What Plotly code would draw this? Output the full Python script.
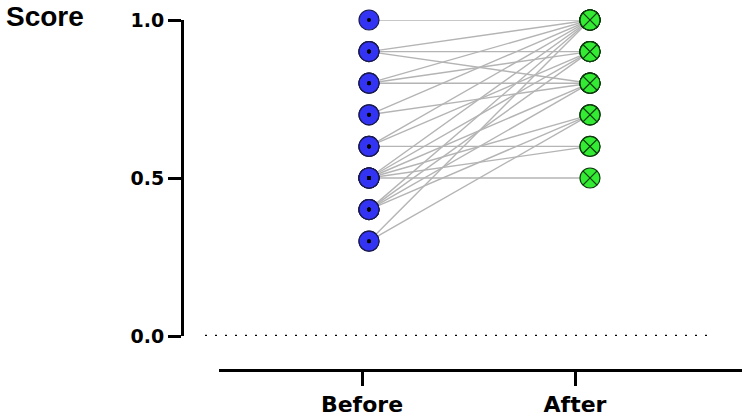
import plotly.graph_objects as go

# ---- data ----
categories = ["Before", "After"]
before = [1.0, 0.9, 0.9, 0.9, 0.8, 0.8, 0.8, 0.7, 0.7, 0.6, 0.6, 0.6,
          0.5, 0.5, 0.5, 0.5, 0.5, 0.5, 0.4, 0.4, 0.4, 0.4, 0.3, 0.3]
after = [1.0, 1.0, 0.9, 0.8, 1.0, 0.9, 0.8, 1.0, 0.8, 1.0, 0.9, 0.6,
         1.0, 0.9, 0.8, 0.7, 0.6, 0.5, 1.0, 0.9, 0.8, 0.7, 1.0, 0.7]
y_ticks = [0.0, 0.5, 1.0]
y_tick_labels = ["0.0", "0.5", "1.0"]
y_title = "Score"

# ---- layout geometry (pixels) ----
W, H = 743, 418
ml, mr, mt, mb = 184, 1, 20, 40
pw, ph = W - ml - mr, H - mt - mb

def px_x(p):
    return (p - ml) / pw

def px_y(p):
    return (H - mb - p) / ph

# main (hidden) x axis: Before at 369px, After at 590px
sx = 590 - 369
x_rng = [(ml - 369) / sx, (W - mr - 369) / sx]
# category axis: ticks at 362px and 575px, line from 219px
sx2 = 575 - 362
x2_rng = [(219 - 362) / sx2, (W - mr - 362) / sx2]

xs, ys = [], []
for b, a in zip(before, after):
    xs += [0, 1, None]
    ys += [b, a, None]

fig = go.Figure()
fig.add_trace(go.Scatter(
    x=xs, y=ys, mode="lines",
    line=dict(color="#B4B4B4", width=1.4),
    cliponaxis=False, hoverinfo="skip", showlegend=False))
fig.add_trace(go.Scatter(
    x=[0] * len(before), y=before, mode="markers",
    marker=dict(symbol="circle", size=20, color="#3333F4",
                line=dict(color="#1A1A50", width=1.2)),
    cliponaxis=False, showlegend=False, name=categories[0]))
fig.add_trace(go.Scatter(
    x=[0] * len(before), y=before, mode="markers",
    marker=dict(symbol="circle", size=4, color="#000000", line=dict(width=0)),
    cliponaxis=False, showlegend=False, hoverinfo="skip"))
fig.add_trace(go.Scatter(
    x=[1] * len(after), y=after, mode="markers",
    marker=dict(symbol="circle-x", size=20, color="#33EB33",
                line=dict(color="#0E3A0E", width=1.2)),
    cliponaxis=False, showlegend=False, name=categories[1]))
# trace to register category axis
fig.add_trace(go.Scatter(
    x=[0, 1], y=[None, None], xaxis="x2", yaxis="y", mode="markers",
    showlegend=False, hoverinfo="skip"))

# dotted baseline at 0
fig.add_shape(type="line", xref="x", yref="y",
              x0=(205 - 369) / sx, x1=(708 - 369) / sx, y0=0, y1=0,
              line=dict(color="#000000", width=2.5, dash="2px,8px"))

fig.update_layout(
    width=W, height=H,
    margin=dict(l=ml, r=mr, t=mt, b=mb, pad=0),
    paper_bgcolor="white", plot_bgcolor="rgba(0,0,0,0)",
    xaxis=dict(range=x_rng, visible=False, domain=[0, 1]),
    xaxis2=dict(
        range=x2_rng, domain=[px_x(219), 1], anchor="free",
        position=px_y(370), automargin=False,
        tickvals=[0, 1], ticktext=categories,
        showline=True, linecolor="black", linewidth=3,
        ticks="outside", ticklen=14, tickwidth=3, tickcolor="black",
        showgrid=False, zeroline=False,
        tickfont=dict(family="DejaVu Sans", size=22, color="black", weight="bold")),
    yaxis=dict(
        range=[0, 1], domain=[px_y(336), 1], automargin=False,
        tickvals=y_ticks, ticktext=y_tick_labels,
        showline=True, linecolor="black", linewidth=3,
        ticks="outside", ticklen=13, tickwidth=3, tickcolor="black",
        showgrid=False, zeroline=False,
        tickfont=dict(family="DejaVu Sans", size=19, color="black", weight="bold")),
    annotations=[dict(
        text=y_title, xref="paper", yref="paper",
        x=px_x(4), y=px_y(17), xanchor="left", yanchor="middle",
        showarrow=False,
        font=dict(family="Liberation Sans", size=28, color="black", weight="bold"))],
)

fig.write_html("out.html", config={"displayModeBar": False},
               post_script="document.body.style.margin='0';")
